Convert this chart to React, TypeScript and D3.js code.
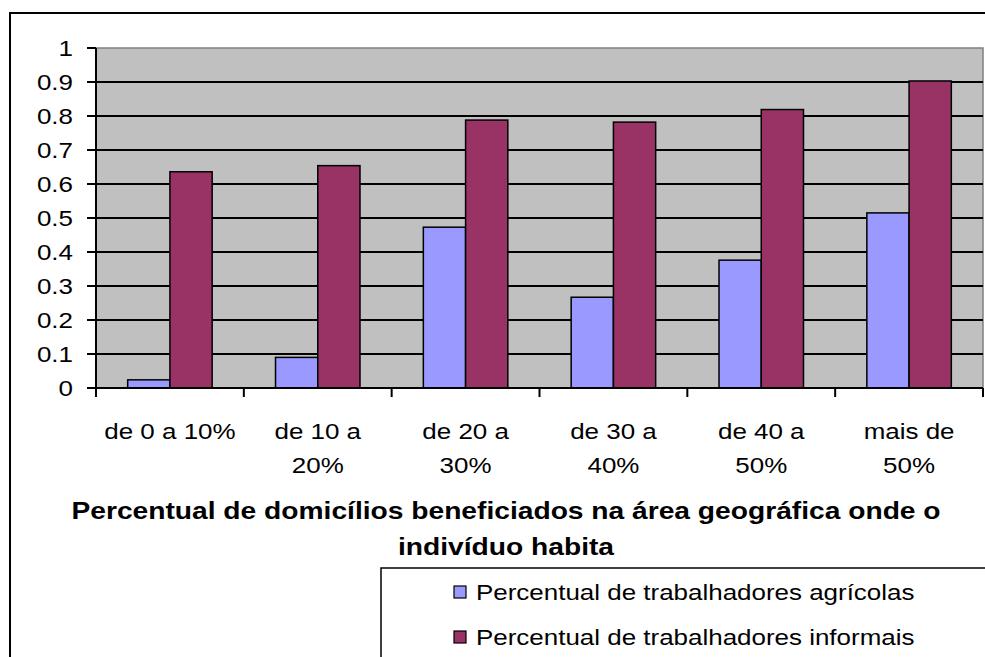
import React from "react";
import * as d3 from "d3";

const categories = ["de 0 a 10%", "de 10 a 20%", "de 20 a 30%", "de 30 a 40%", "de 40 a 50%", "mais de 50%"];
const categoryLines = [["de 0 a 10%"], ["de 10 a", "20%"], ["de 20 a", "30%"], ["de 30 a", "40%"], ["de 40 a", "50%"], ["mais de", "50%"]];
const seriesNames = ["Percentual de trabalhadores agrícolas", "Percentual de trabalhadores informais"];
const agricolas = [0.024, 0.09, 0.473, 0.267, 0.376, 0.515];
const informais = [0.636, 0.654, 0.788, 0.782, 0.819, 0.903];
const yTicks = [0, 0.1, 0.2, 0.3, 0.4, 0.5, 0.6, 0.7, 0.8, 0.9, 1];
const titleLines = ["Percentual de domicílios beneficiados na área geográfica onde o", "indivíduo habita"];
const colors = ["#9999FF", "#993366"];

const W = 985;
const H = 657;
const FONT = "'Liberation Sans', Arial, sans-serif";

function T({ x, y, anchor = "start", size = 22, weight = "normal", sx = 1.18, children }: any) {
  return (
    <text
      transform={`translate(${x},${y}) scale(${sx},1)`}
      textAnchor={anchor}
      fontSize={size}
      fontWeight={weight}
      fontFamily={FONT}
      fill="#000"
    >
      {children}
    </text>
  );
}

export default function App() {
  const plotL = 96, plotR = 983, plotT = 48, plotB = 388;
  const x = d3.scaleBand<string>().domain(categories).range([plotL, plotR]).paddingInner(0).paddingOuter(0);
  const xi = d3.scaleBand<string>().domain(seriesNames).range([0, x.bandwidth()]).paddingInner(0).paddingOuter(0.75);
  const y = d3.scaleLinear().domain([0, 1]).range([plotB, plotT]);
  const data = [agricolas, informais];

  return (
    <svg width={W} height={H} style={{ position: "absolute", left: 0, top: 0, background: "#fff" }}>
      <rect x={0} y={0} width={W} height={H} fill="#fff" />
      {/* outer chart frame */}
      <rect x={10} y={13} width={W} height={H} fill="none" stroke="#000" strokeWidth={2} />
      {/* plot area */}
      <rect x={plotL} y={plotT} width={plotR - plotL} height={plotB - plotT} fill="#C0C0C0" stroke="#808080" strokeWidth={1.5} />
      {yTicks.filter((t) => t > 0 && t < 1).map((t) => (
        <line key={t} x1={plotL} x2={plotR} y1={y(t)} y2={y(t)} stroke="#000" strokeWidth={2} />
      ))}
      {/* bars */}
      {data.map((vals, si) =>
        vals.map((v, ci) => (
          <rect
            key={`${si}-${ci}`}
            x={(x(categories[ci]) as number) + (xi(seriesNames[si]) as number)}
            y={y(v)}
            width={xi.bandwidth()}
            height={y(0) - y(v)}
            fill={colors[si]}
            stroke="#000"
            strokeWidth={1.5}
          />
        ))
      )}
      {/* axes */}
      <line x1={plotL} x2={plotL} y1={plotT} y2={plotB} stroke="#000" strokeWidth={2} />
      <line x1={plotL} x2={plotR} y1={plotB} y2={plotB} stroke="#000" strokeWidth={2} />
      {yTicks.map((t) => (
        <g key={t}>
          <line x1={plotL - 9} x2={plotL} y1={y(t)} y2={y(t)} stroke="#000" strokeWidth={2} />
          <T x={73} y={y(t) + 8} anchor="end">{String(t)}</T>
        </g>
      ))}
      {categories.map((c) => (
        <line key={c} x1={x(c) as number} x2={x(c) as number} y1={plotB} y2={plotB + 9} stroke="#000" strokeWidth={2} />
      ))}
      <line x1={plotR} x2={plotR} y1={plotB} y2={plotB + 9} stroke="#000" strokeWidth={2} />
      {categories.map((c, i) => (
        <g key={c}>
          {categoryLines[i].map((ln, li) => (
            <T key={li} x={(x(c) as number) + x.bandwidth() / 2} y={439 + li * 34} anchor="middle">{ln}</T>
          ))}
        </g>
      ))}
      {/* axis title */}
      {titleLines.map((ln, i) => (
        <T key={i} x={506} y={519 + i * 36} anchor="middle" weight="bold" size={23.5} sx={1.2}>{ln}</T>
      ))}
      {/* legend */}
      <rect x={381} y={568} width={W} height={H} fill="#fff" stroke="#000" strokeWidth={1.5} />
      {seriesNames.map((s, i) => (
        <g key={s}>
          <rect x={454} y={586 + i * 45} width={12} height={12} fill={colors[i]} stroke="#000" strokeWidth={1.2} />
          <T x={476} y={600 + i * 45}>{s}</T>
        </g>
      ))}
    </svg>
  );
}
